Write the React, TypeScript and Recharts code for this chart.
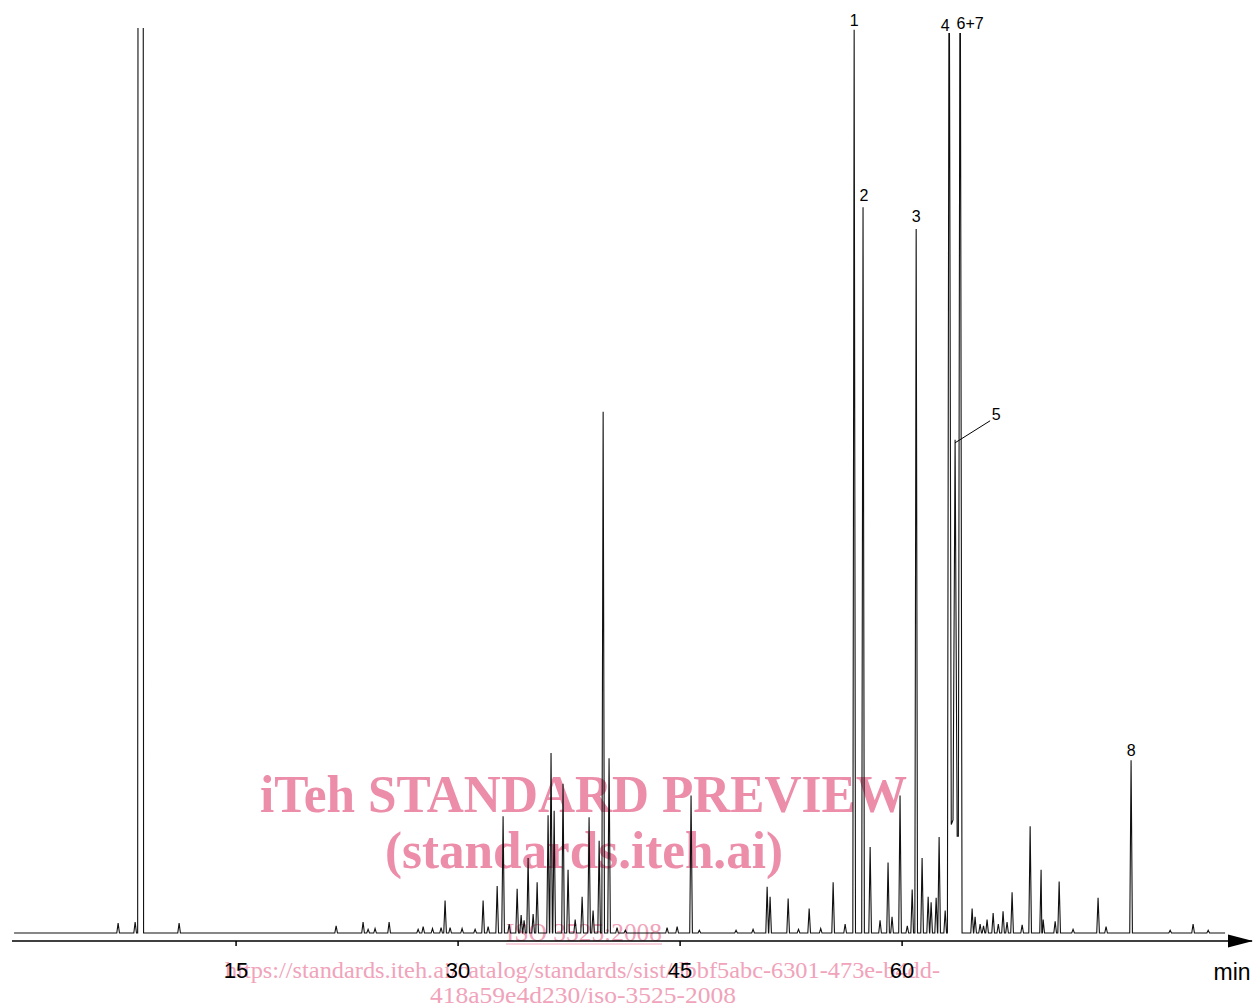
import { LineChart, Line, XAxis, YAxis, ReferenceDot } from "recharts"

// retention time in minutes, signal in % of full scale
const X_DOMAIN: [number, number] = [-0.14, 83.64]
const Y_DOMAIN: [number, number] = [-0.88, 100]
const BASELINE_END = 81.82
const TIME_TICKS = [15, 30, 45, 60]

const earlyPeaks: [number, number][] = [
  [7.03, 1.1], [8.18, 1.2], [11.15, 1.1], [21.76, 0.8], [23.58, 1.2], [23.92, 0.4],
  [24.39, 0.5], [25.34, 1.2], [27.3, 0.4], [27.64, 0.7], [28.27, 0.5], [28.85, 0.6],
  [29.12, 3.6], [29.46, 0.6],
]

const midPeaks: [number, number][] = [
  [30.27, 0.5], [31.15, 0.4], [31.69, 3.6], [32.03, 0.7], [32.64, 5.2], [33.04, 12.9],
  [33.45, 1.0], [33.99, 4.9], [34.26, 2.0], [34.46, 1.4], [34.73, 8.3], [35.07, 2.1],
  [35.34, 5.6], [36.08, 13.0], [36.28, 19.9], [36.49, 13.5], [37.09, 16.5], [37.43, 7.0],
  [37.91, 1.5], [38.38, 4.0], [38.85, 12.8], [39.12, 2.5], [39.53, 10.2], [39.8, 57.6],
  [40.2, 19.3], [40.74, 0.6], [41.3, 0.3], [44.12, 0.6], [44.8, 0.7], [45.74, 15.2],
]

const latePeaks: [number, number][] = [
  [46.3, 0.3], [48.78, 0.3], [49.93, 0.4], [50.88, 5.1], [51.08, 4.0], [52.3, 3.8],
  [53.0, 0.4], [53.72, 2.7], [54.5, 0.5], [55.34, 5.6], [56.15, 1.0], [56.76, 99.8],
  [57.36, 80.2], [57.84, 9.5], [58.51, 1.4], [59.05, 7.8], [59.32, 1.8], [59.86, 15.2],
  [60.35, 0.8], [60.68, 4.8], [60.95, 77.8], [61.35, 8.3], [61.76, 4.0], [61.96, 3.4],
  [62.3, 3.9], [62.5, 10.6], [62.91, 2.5], [64.73, 2.7], [64.93, 1.8], [65.27, 1.0],
  [65.5, 0.8], [65.74, 1.5], [66.15, 2.2], [66.5, 1.0], [66.82, 2.4], [67.09, 1.2],
  [67.43, 4.5], [68.11, 0.9], [68.65, 11.8], [69.39, 7.0], [69.53, 1.5], [70.34, 1.3],
  [70.61, 5.7], [71.55, 0.4], [73.24, 3.9], [73.78, 0.7], [75.47, 19.1], [78.11, 0.3],
  [79.66, 1.0], [80.68, 0.3],
]

// solvent peak (off scale) and the unresolved 4 / 5 / 6+7 group, as drawn vertices
const solventTrace: [number, number][] = [[8.35, 0], [8.38, 140], [8.72, 140], [8.75, 0]]
const clusterTrace: [number, number][] = [
  [63.06, 0], [63.16, 99.4], [63.2, 99.4], [63.32, 12], [63.44, 12.5], [63.58, 54.5],
  [63.72, 10.7], [63.8, 10.7], [63.9, 99.4], [63.94, 99.4], [64.05, 0],
]

// numbered peaks: label, time, height, label shift
const peakLabels: [string, number, number, number, number][] = [
  ["1", 56.76, 99.8, 0, -4],
  ["2", 57.36, 80.2, 1, -6],
  ["3", 60.95, 77.8, 0, -7],
  ["4", 63.18, 99.4, -4, -2],
  ["6+7", 63.92, 99.4, 10, -4],
  ["8", 75.47, 19.1, 0, -4],
]

const HALF_WIDTH = 0.09

function buildTrace() {
  const pts: { t: number; v: number }[] = [{ t: 0, v: 0 }, { t: BASELINE_END, v: 0 }]
  for (const [t, h] of [...earlyPeaks, ...midPeaks, ...latePeaks]) {
    pts.push({ t: t - HALF_WIDTH, v: 0 }, { t, v: h }, { t: t + HALF_WIDTH, v: 0 })
  }
  for (const [t, v] of [...solventTrace, ...clusterTrace]) pts.push({ t, v })
  return pts.sort((a, b) => a.t - b.t)
}

const trace = buildTrace()

const PINK = "#ec8daa"
const PINK_LIGHT = "#f0a3ba"

function Watermark() {
  const serif = "'Liberation Serif', 'Times New Roman', serif"
  return (
    <svg width={1255} height={1008} style={{ position: "absolute", left: 0, top: 0 }}>
      <text x={583.5} y={812} textAnchor="middle" fontFamily={serif} fontWeight="bold" fontSize={52}
        fill={PINK} textLength={647} lengthAdjust="spacingAndGlyphs">iTeh STANDARD PREVIEW</text>
      <text x={584} y={868} textAnchor="middle" fontFamily={serif} fontWeight="bold" fontSize={52}
        fill={PINK} textLength={398} lengthAdjust="spacingAndGlyphs">(standards.iteh.ai)</text>
      <text x={584} y={941} textAnchor="middle" fontFamily={serif} fontSize={25}
        fill={PINK_LIGHT} textLength={156} lengthAdjust="spacingAndGlyphs">ISO 3525:2008</text>
      <line x1={506} x2={662} y1={944} y2={944} stroke={PINK_LIGHT} strokeWidth={1.2} />
      <text x={582.5} y={978} textAnchor="middle" fontFamily={serif} fontSize={24}
        fill={PINK_LIGHT} textLength={715} lengthAdjust="spacingAndGlyphs">
        https://standards.iteh.ai/catalog/standards/sist/dbbf5abc-6301-473e-b4dd-
      </text>
      <text x={583} y={1003} textAnchor="middle" fontFamily={serif} fontSize={24}
        fill={PINK_LIGHT} textLength={306} lengthAdjust="spacingAndGlyphs">418a59e4d230/iso-3525-2008</text>
    </svg>
  )
}

const sans = "'Liberation Sans', Arial, sans-serif"

export default function App() {
  return (
    <div style={{ position: "absolute", left: 0, top: 0, width: 1255, height: 1008, background: "#fff" }}>
      <Watermark />
      <div style={{ position: "absolute", left: 0, top: 0 }}>
        <LineChart width={1255} height={1008} data={trace} margin={{ top: 28, right: 3, bottom: 27, left: 12 }}>
          <XAxis
            dataKey="t"
            type="number"
            domain={X_DOMAIN}
            allowDataOverflow
            ticks={TIME_TICKS}
            height={40}
            tickSize={5}
            tickMargin={16}
            axisLine={{ stroke: "#000", strokeWidth: 1.5 }}
            tickLine={{ stroke: "#000", strokeWidth: 1.5 }}
            tick={{ fontSize: 22, fill: "#000", fontFamily: sans }}
          />
          <YAxis
            type="number"
            domain={Y_DOMAIN}
            allowDataOverflow
            width={0}
            tick={false}
            tickLine={false}
            axisLine={{ stroke: "#000", strokeWidth: 1.5 }}
          />
          <Line
            dataKey="v"
            type="linear"
            stroke="#111"
            strokeWidth={1.1}
            dot={false}
            activeDot={false}
            isAnimationActive={false}
          />
          {peakLabels.map(([name, t, h, dx, dy]) => (
            <ReferenceDot
              key={name}
              x={t}
              y={h}
              r={0}
              ifOverflow="visible"
              shape={(p: any) => (
                <text x={p.cx + dx} y={p.cy + dy} textAnchor="middle" fontFamily={sans} fontSize={16} fill="#000">
                  {name}
                </text>
              )}
            />
          ))}
          <ReferenceDot
            x={63.58}
            y={54.5}
            r={0}
            ifOverflow="visible"
            shape={(p: any) => (
              <g>
                <line x1={p.cx} y1={p.cy + 3} x2={p.cx + 35} y2={p.cy - 19} stroke="#000" strokeWidth={1} />
                <text x={p.cx + 41} y={p.cy - 20} textAnchor="middle" fontFamily={sans} fontSize={16} fill="#000">5</text>
              </g>
            )}
          />
          <ReferenceDot
            x={X_DOMAIN[1]}
            y={Y_DOMAIN[0]}
            r={0}
            ifOverflow="visible"
            shape={(p: any) => (
              <g>
                <polygon points={`${p.cx - 24},${p.cy - 6.5} ${p.cx + 1},${p.cy} ${p.cx - 24},${p.cy + 6.5}`} fill="#000" />
                <text x={p.cx - 20} y={p.cy + 39} textAnchor="middle" fontFamily={sans} fontSize={23} fill="#000">min</text>
              </g>
            )}
          />
        </LineChart>
      </div>
    </div>
  )
}
